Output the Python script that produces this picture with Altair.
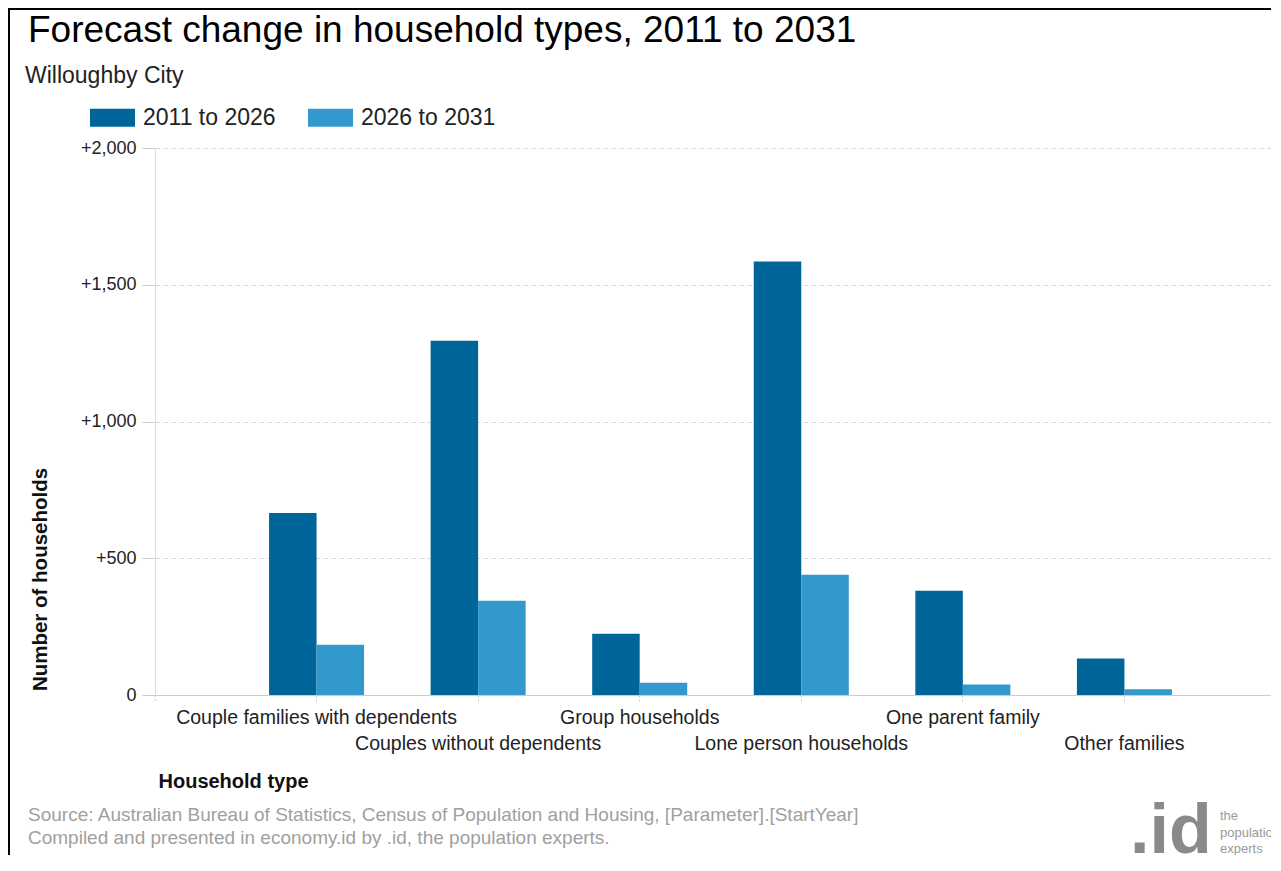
import altair as alt
import pandas as pd

FONT = "Liberation Sans"

categories = [
    "Couple families with dependents",
    "Couples without dependents",
    "Group households",
    "Lone person households",
    "One parent family",
    "Other families",
]
series = ["2011 to 2026", "2026 to 2031"]
values_2011_2026 = [665, 1295, 224, 1585, 381, 133]
values_2026_2031 = [184, 345, 45, 440, 38, 21]
colors = ["#006699", "#3399CC"]
y_ticks = [0, 500, 1000, 1500, 2000]

title_text = "Forecast change in household types, 2011 to 2031"
subtitle_text = "Willoughby City"
source_lines = [
    "Source: Australian Bureau of Statistics, Census of Population and Housing, [Parameter].[StartYear]",
    "Compiled and presented in economy.id by .id, the population experts.",
]
logo_text = ".id"
logo_lines = ["the", "population", "experts"]
y_title = "Number of households"
x_title = "Household type"

rows = []
for c, a, b in zip(categories, values_2011_2026, values_2026_2031):
    rows.append({"type": c, "period": series[0], "value": a})
    rows.append({"type": c, "period": series[1], "value": b})
df = pd.DataFrame(rows)

second_line = categories[1::2]
label_expr = (
    "indexof([" + ",".join("'" + c + "'" for c in second_line) + "], datum.value) >= 0"
    " ? ['', datum.label] : datum.label"
)

W = 1116
H = 547
RANGE = 1131

bars = alt.Chart(df).mark_bar().encode(
    x=alt.X(
        "type:N",
        sort=categories,
        scale=alt.Scale(domain=categories, paddingInner=0, paddingOuter=0.5, range=[0, RANGE]),
        axis=alt.Axis(
            title=x_title,
            labelExpr=label_expr,
            labelAngle=0,
            labelFont=FONT,
            labelFontSize=19.5,
            labelColor="#222222",
            labelLineHeight=26,
            labelPadding=5,
            labelBaseline="top",
            labelOverlap=False,
            labelLimit=0,
            tickSize=8,
            tickColor="#c8c8c8",
            tickDash=[2, 2],
            domainColor="#cccccc",
            grid=False,
            titleFont=FONT,
            titleFontSize=20,
            titleFontWeight="bold",
            titleColor="#111111",
            titleX=3,
            titleY=86,
            titleAlign="left",
            titleBaseline="middle",
        ),
    ),
    xOffset=alt.XOffset(
        "period:N",
        sort=series,
        scale=alt.Scale(domain=series, paddingInner=0, paddingOuter=0.7),
    ),
    y=alt.Y(
        "value:Q",
        scale=alt.Scale(domain=[0, 2000], nice=False),
        axis=alt.Axis(
            title=y_title,
            values=y_ticks,
            labelExpr="datum.value > 0 ? '+' + format(datum.value, ',') : '0'",
            labelFont=FONT,
            labelFontSize=18,
            labelColor="#222222",
            labelPadding=6,
            tickSize=13,
            tickColor="#cccccc",
            domainColor="#dddddd",
            gridColor="#d9d9d9",
            gridDash=[5, 3],
            titleFont=FONT,
            titleFontSize=20.5,
            titleFontWeight="bold",
            titleColor="#111111",
            titleX=-115,
            titleY=431,
            titleAngle=270,
            titleAlign="center",
            titleBaseline="middle",
        ),
    ),
    color=alt.Color(
        "period:N",
        sort=series,
        scale=alt.Scale(domain=series, range=colors),
        legend=alt.Legend(
            title=None,
            orient="none",
            legendX=-65,
            legendY=-53,
            direction="horizontal",
            symbolType="M-1,-0.4L1,-0.4L1,0.4L-1,0.4Z",
            symbolSize=2025,
            symbolStrokeWidth=0,
            symbolOpacity=1,
            labelFont=FONT,
            labelFontSize=23,
            labelColor="#222222",
            labelOffset=8,
            columnPadding=32,
        ),
    ),
)


def text_layer(text, x, y, size, color, weight="normal", font=FONT, baseline="alphabetic"):
    return alt.Chart(pd.DataFrame({"t": [text]})).mark_text(
        align="left", baseline=baseline, font=font, fontSize=size, color=color, fontWeight=weight
    ).encode(text="t:N", x=alt.value(x), y=alt.value(y))


texts = [
    text_layer(title_text, -127, -106, 37, "#000000"),
    text_layer(subtitle_text, -130, -65, 23, "#222222"),
    text_layer(source_lines[0], -127, 673, 19, "#a0a0a0"),
    text_layer(source_lines[1], -127, 696, 19, "#a0a0a0"),
    text_layer(logo_text, 975, 705, 70, "#8a8a8a", weight="bold"),
    text_layer(logo_lines[0], 1065, 672, 13, "#9a9a9a"),
    text_layer(logo_lines[1], 1065, 689, 13, "#9a9a9a"),
    text_layer(logo_lines[2], 1065, 705, 13, "#9a9a9a"),
]

extra_tick = alt.Chart(pd.DataFrame({"k": [0]})).mark_rule(
    color="#c8c8c8", strokeDash=[2, 2]
).encode(x=alt.value(0), y=alt.value(H), y2=alt.value(H + 8))

border_left = alt.Chart(pd.DataFrame({"k": [0]})).mark_rule(
    color="#000000", strokeWidth=2
).encode(x=alt.value(-146), y=alt.value(-140), y2=alt.value(H + 170))

border_top = alt.Chart(pd.DataFrame({"k": [0]})).mark_rule(
    color="#000000", strokeWidth=2
).encode(x=alt.value(-147), x2=alt.value(W + 10), y=alt.value(-139))

chart = alt.layer(bars, extra_tick, border_left, border_top, *texts).properties(
    width=W,
    height=H,
    autosize=alt.AutoSizeParams(type="none"),
    padding={"left": 147, "top": 140, "right": 0, "bottom": 160},
    background="#ffffff",
).configure_view(stroke=None)

chart.save("out.html", embed_options={"renderer": "svg", "actions": False})
